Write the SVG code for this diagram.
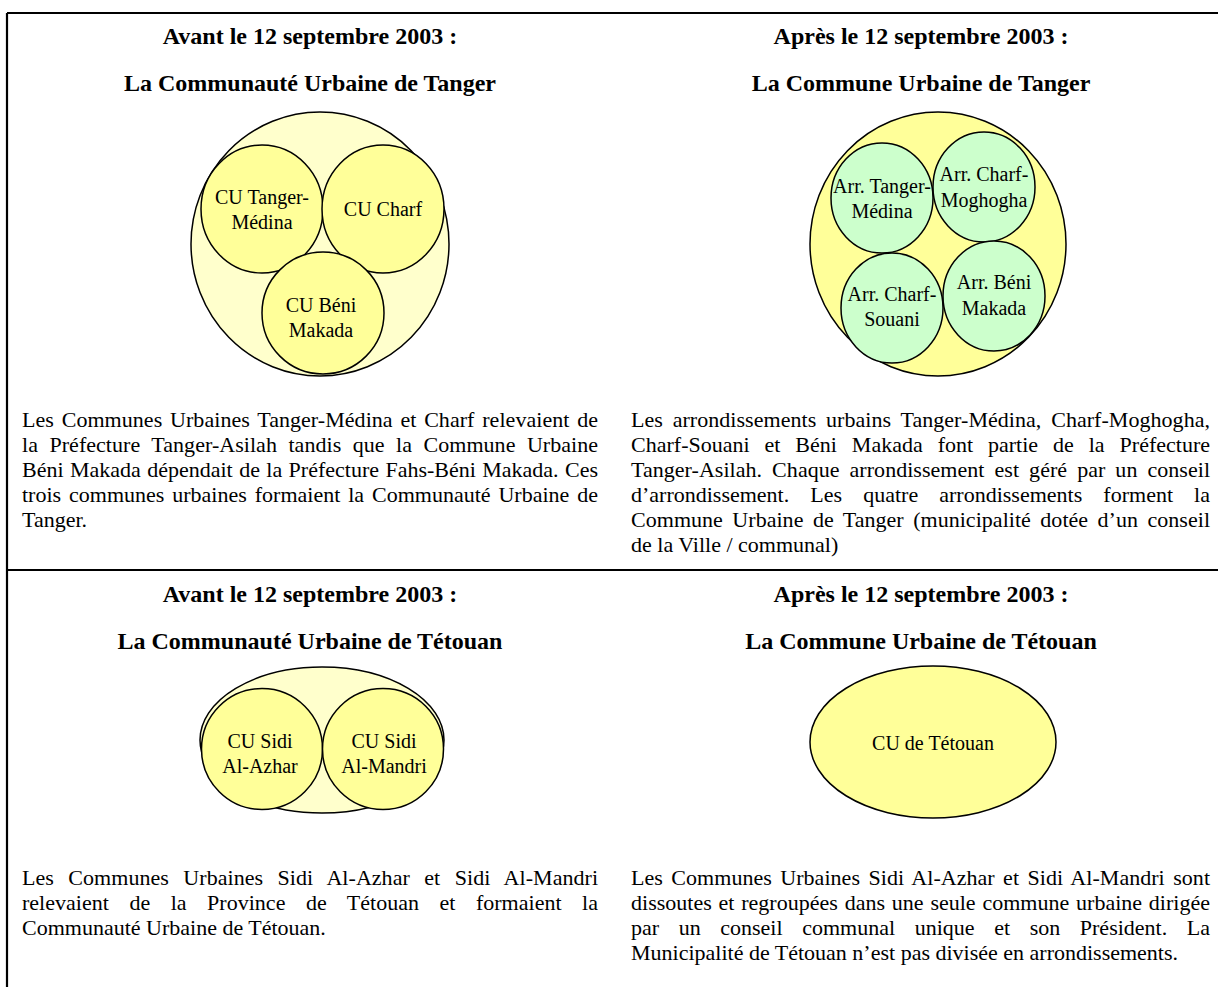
<svg xmlns="http://www.w3.org/2000/svg" width="1218" height="987" viewBox="0 0 1218 987">
<style>
.h{font-family:"Liberation Serif","Times New Roman",serif;font-weight:bold;font-size:24px;fill:#000;text-anchor:middle}
.b{font-family:"Liberation Serif","Times New Roman",serif;font-size:22px;fill:#000}
.c{font-family:"Liberation Serif","Times New Roman",serif;font-size:20px;fill:#000;text-anchor:middle}
.lt{fill:#FFFFCC;stroke:#000;stroke-width:1.5}
.yl{fill:#FFFF99;stroke:#000;stroke-width:1.5}
.gr{fill:#CCFFCC;stroke:#000;stroke-width:1.5}
.fr{stroke:#000;stroke-width:2.2;fill:none}
</style>
<rect width="1218" height="987" fill="#fff"/>
<g id="frame">
<line class="fr" x1="7" y1="13" x2="1218" y2="13"/>
<line class="fr" x1="7" y1="13" x2="7" y2="987"/>
<line class="fr" x1="7" y1="570" x2="1218" y2="570"/>
</g>

<g id="tanger-avant">
<text class="h" x="310" y="44">Avant le 12 septembre 2003 :</text>
<text class="h" x="310" y="91">La Communauté Urbaine de Tanger</text>
<g id="cu-tanger">
<ellipse class="lt" cx="320" cy="244" rx="129" ry="132"/>
</g>
<g id="cu-tanger-medina">
<ellipse class="yl" cx="262" cy="209" rx="61" ry="64"/>
<text class="c" x="262" y="204">CU Tanger-</text>
<text class="c" x="262" y="229">Médina</text>
</g>
<g id="cu-charf">
<ellipse class="yl" cx="383" cy="209" rx="61" ry="64"/>
<text class="c" x="383" y="216">CU Charf</text>
</g>
<g id="cu-beni-makada">
<ellipse class="yl" cx="323" cy="313" rx="61" ry="61"/>
<text class="c" x="321" y="312">CU Béni</text>
<text class="c" x="321" y="337">Makada</text>
</g>
<g id="texte-tanger-avant">
<text class="b" x="22" y="427" word-spacing="2.2" textLength="576" lengthAdjust="spacing">Les Communes Urbaines Tanger-Médina et Charf relevaient de</text>
<text class="b" x="22" y="452" word-spacing="5.9" textLength="576" lengthAdjust="spacing">la Préfecture Tanger-Asilah tandis que la Commune Urbaine</text>
<text class="b" x="22" y="477" word-spacing="0.9" textLength="576" lengthAdjust="spacing">Béni Makada dépendait de la Préfecture Fahs-Béni Makada. Ces</text>
<text class="b" x="22" y="502" word-spacing="2.4" textLength="576" lengthAdjust="spacing">trois communes urbaines formaient la Communauté Urbaine de</text>
<text class="b" x="22" y="527">Tanger.</text>
</g>
</g>

<g id="tanger-apres">
<text class="h" x="921" y="44">Après le 12 septembre 2003 :</text>
<text class="h" x="921" y="91">La Commune Urbaine de Tanger</text>
<g id="commune-tanger">
<ellipse class="yl" cx="938" cy="244" rx="128" ry="132"/>
</g>
<g id="arr-tanger-medina">
<ellipse class="gr" cx="882" cy="198" rx="51" ry="55"/>
<text class="c" x="882" y="193">Arr. Tanger-</text>
<text class="c" x="882" y="218">Médina</text>
</g>
<g id="arr-charf-moghogha">
<ellipse class="gr" cx="984" cy="187" rx="51" ry="55"/>
<text class="c" x="984" y="181">Arr. Charf-</text>
<text class="c" x="984" y="207">Moghogha</text>
</g>
<g id="arr-charf-souani">
<ellipse class="gr" cx="892" cy="308" rx="51" ry="55"/>
<text class="c" x="892" y="301">Arr. Charf-</text>
<text class="c" x="892" y="326">Souani</text>
</g>
<g id="arr-beni-makada">
<ellipse class="gr" cx="994" cy="296" rx="51" ry="55"/>
<text class="c" x="994" y="289">Arr. Béni</text>
<text class="c" x="994" y="315">Makada</text>
</g>
<g id="texte-tanger-apres">
<text class="b" x="631" y="427" word-spacing="4.2" textLength="579" lengthAdjust="spacing">Les arrondissements urbains Tanger-Médina, Charf-Moghogha,</text>
<text class="b" x="631" y="452" word-spacing="9.4" textLength="579" lengthAdjust="spacing">Charf-Souani et Béni Makada font partie de la Préfecture</text>
<text class="b" x="631" y="477" word-spacing="4.5" textLength="579" lengthAdjust="spacing">Tanger-Asilah. Chaque arrondissement est géré par un conseil</text>
<text class="b" x="631" y="502" word-spacing="15.6" textLength="579" lengthAdjust="spacing">d’arrondissement. Les quatre arrondissements forment la</text>
<text class="b" x="631" y="527" word-spacing="3.9" textLength="579" lengthAdjust="spacing">Commune Urbaine de Tanger (municipalité dotée d’un conseil</text>
<text class="b" x="631" y="552">de la Ville / communal)</text>
</g>
</g>

<g id="tetouan-avant">
<text class="h" x="310" y="602">Avant le 12 septembre 2003 :</text>
<text class="h" x="310" y="649">La Communauté Urbaine de Tétouan</text>
<g id="cu-tetouan">
<ellipse class="lt" cx="322" cy="740" rx="122" ry="73"/>
</g>
<g id="cu-sidi-al-azhar">
<circle class="yl" cx="262" cy="749" r="60.5"/>
<text class="c" x="260" y="748">CU Sidi</text>
<text class="c" x="260" y="773">Al-Azhar</text>
</g>
<g id="cu-sidi-al-mandri">
<circle class="yl" cx="383" cy="749" r="60.5"/>
<text class="c" x="384" y="748">CU Sidi</text>
<text class="c" x="384" y="773">Al-Mandri</text>
</g>
<g id="texte-tetouan-avant">
<text class="b" x="22" y="885" word-spacing="8.9" textLength="576" lengthAdjust="spacing">Les Communes Urbaines Sidi Al-Azhar et Sidi Al-Mandri</text>
<text class="b" x="22" y="910" word-spacing="15" textLength="576" lengthAdjust="spacing">relevaient de la Province de Tétouan et formaient la</text>
<text class="b" x="22" y="935">Communauté Urbaine de Tétouan.</text>
</g>
</g>

<g id="tetouan-apres">
<text class="h" x="921" y="602">Après le 12 septembre 2003 :</text>
<text class="h" x="921" y="649">La Commune Urbaine de Tétouan</text>
<g id="commune-tetouan">
<ellipse class="yl" cx="933" cy="742" rx="123" ry="76"/>
<text class="c" x="933" y="750">CU de Tétouan</text>
</g>
<g id="texte-tetouan-apres">
<text class="b" x="631" y="885" word-spacing="2.9" textLength="579" lengthAdjust="spacing">Les Communes Urbaines Sidi Al-Azhar et Sidi Al-Mandri sont</text>
<text class="b" x="631" y="910" word-spacing="1.3" textLength="579" lengthAdjust="spacing">dissoutes et regroupées dans une seule commune urbaine dirigée</text>
<text class="b" x="631" y="935" word-spacing="14.1" textLength="579" lengthAdjust="spacing">par un conseil communal unique et son Président. La</text>
<text class="b" x="631" y="960">Municipalité de Tétouan n’est pas divisée en arrondissements.</text>
</g>
</g>
</svg>
